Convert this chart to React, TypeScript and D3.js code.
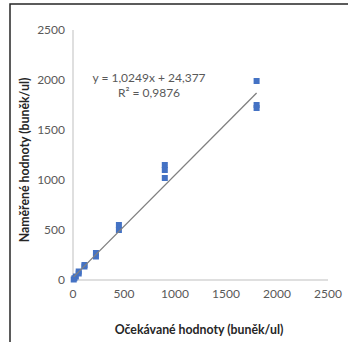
import * as d3 from 'd3';
import React from 'react';

// expected vs measured (buněk/ul)
const expected = [1800, 1800, 1800, 900, 900, 900, 450, 450, 225, 225, 112.5, 112.5, 56, 56, 28, 14, 7];
const measured = [1990, 1750, 1720, 1150, 1100, 1020, 550, 500, 270, 235, 150, 135, 85, 65, 35, 18, 5];
const xTicks = [0, 500, 1000, 1500, 2000, 2500];
const yTicks = [0, 500, 1000, 1500, 2000, 2500];
const slope = 1.0249;
const intercept = 24.377;

const W = 348;
const H = 342;
const font = 'Lato, "Open Sans", sans-serif';
const txt = '#595959';

export default function App() {
  const x = d3.scaleLinear().domain([0, 2500]).range([73, 328]);
  const y = d3.scaleLinear().domain([0, 2500]).range([280, 30]);

  const xMin = d3.min(expected) as number;
  const xMax = d3.max(expected) as number;
  const trend = d3.line<number>()
    .x(d => x(d))
    .y(d => y(slope * d + intercept));

  return (
    <svg width={W} height={H} style={{ position: 'absolute', left: 0, top: 0, background: '#fff' }}>
      {/* chart border, runs off the bottom/right */}
      <rect x={10} y={4} width={W} height={H} fill="#fff" stroke="#262626" strokeWidth={1.5} />

      {/* axes */}
      <line x1={x(0)} x2={x(0)} y1={y(2500)} y2={y(0)} stroke="#bfbfbf" strokeWidth={1} />
      <line x1={x(0)} x2={x(2500)} y1={y(0)} y2={y(0)} stroke="#bfbfbf" strokeWidth={1} />

      {yTicks.map(t => (
        <text key={'y' + t} x={x(0) - 8} y={y(t)} dy="0.35em" textAnchor="end"
          fontFamily={font} fontSize={12} fill={txt}>{t}</text>
      ))}
      {xTicks.map(t => (
        <text key={'x' + t} x={x(t)} y={y(0) + 14} dy="0.35em" textAnchor="middle"
          fontFamily={font} fontSize={12} fill={txt}>{t}</text>
      ))}

      {expected.map((e, i) => (
        <rect key={i} x={x(e) - 3} y={y(measured[i]) - 3} width={6} height={6} fill="#4472c4" />
      ))}

      <path d={trend([xMin, xMax]) || ''} fill="none" stroke="#808080" strokeWidth={1.3} />

      <text x={149} y={78} dy="0.35em" textAnchor="middle" fontFamily={font} fontSize={12} fill={txt}>
        y = 1,0249x + 24,377
      </text>
      <text x={149} y={92.5} dy="0.35em" textAnchor="middle" fontFamily={font} fontSize={12} fill={txt}>
        R² = 0,9876
      </text>

      <text x={199} y={330} dy="0.35em" textAnchor="middle" fontFamily={font} fontSize={12.3}
        fontWeight="bold" fill="#262626">Očekávané hodnoty (buněk/ul)</text>
      <text transform={`translate(25,160) rotate(-90)`} dy="0.35em" textAnchor="middle" fontFamily={font}
        fontSize={12.3} fontWeight="bold" fill="#262626">Naměřené hodnoty (buněk/ul)</text>
    </svg>
  );
}
